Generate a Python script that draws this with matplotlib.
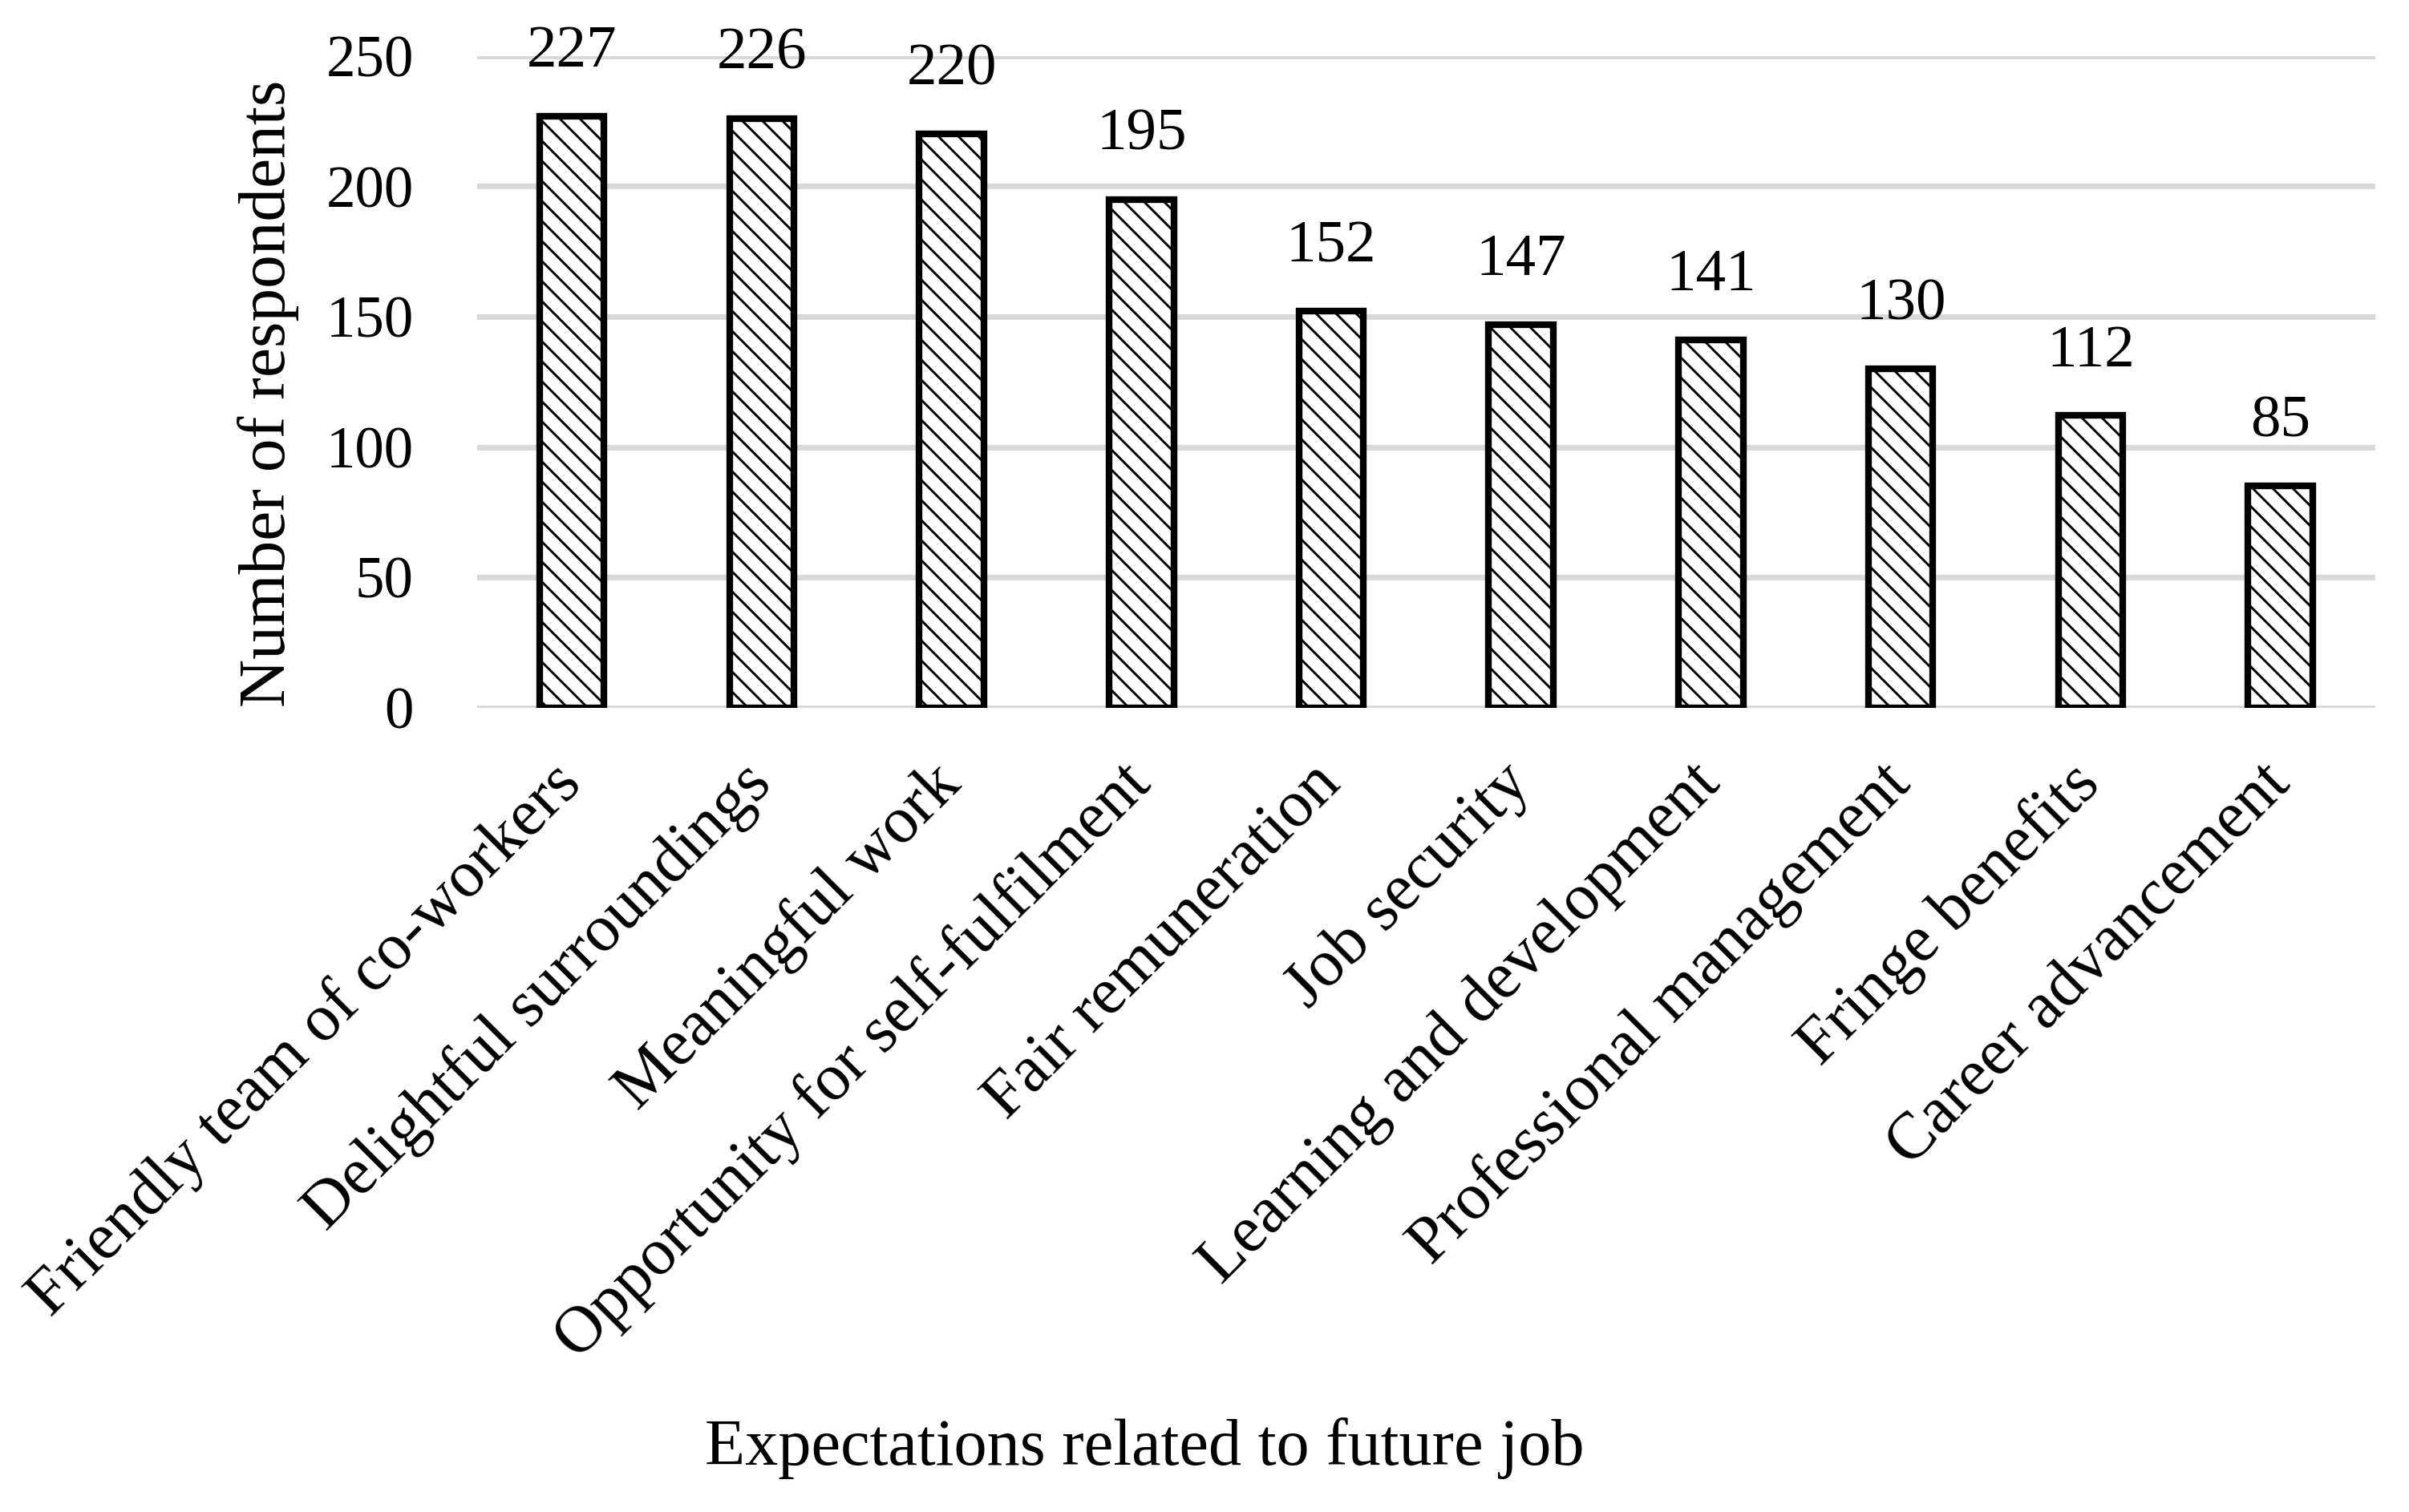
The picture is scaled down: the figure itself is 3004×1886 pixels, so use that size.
import matplotlib.pyplot as plt

categories = [
    'Friendly team of co-workers',
    'Delightful surroundings',
    'Meaningful work',
    'Opportunity for self-fulfilment',
    'Fair remuneration',
    'Job security',
    'Learning and development',
    'Professional management',
    'Fringe benefits',
    'Career advancement',
]
respondents = [227, 226, 220, 195, 152, 147, 141, 130, 112, 85]
y_ticks = [0, 50, 100, 150, 200, 250]

plt.rcParams['font.family'] = ['Liberation Serif', 'DejaVu Serif']
plt.rcParams['hatch.linewidth'] = 1.4
plt.rcParams['hatch.color'] = 'black'

fig = plt.figure(figsize=(3004 / 150, 1886 / 150), dpi=150)
ax = fig.add_axes([0.198, 0.532, 0.788, 0.431])

x = range(len(categories))
bars = ax.bar(x, respondents, width=0.34, color='white', edgecolor='black',
              linewidth=4.0, hatch='\\\\', zorder=3)

for rect, v in zip(bars, respondents):
    ax.annotate(str(v), (rect.get_x() + rect.get_width() / 2, v),
                xytext=(0, 22), textcoords='offset points',
                ha='center', va='bottom', fontsize=36)

ax.set_xlim(-0.5, len(categories) - 0.5)
ax.set_ylim(0, 250)
ax.set_yticks(y_ticks)
ax.yaxis.grid(True, color='#d9d9d9', linewidth=3.4, zorder=0)
ax.set_axisbelow(True)
for s in ax.spines.values():
    s.set_visible(False)

ax.set_xticks(list(x))
ax.set_xticklabels(categories, rotation=45, ha='right', va='center',
                   rotation_mode='anchor', fontsize=39.5)
ax.tick_params(axis='both', length=0)
ax.tick_params(axis='y', labelsize=35, pad=38)
ax.tick_params(axis='x', pad=40)

fig.text(0.1115, 0.74, 'Number of respondents', rotation=90,
         ha='center', va='center', fontsize=40)
fig.text(0.475, 0.042, 'Expectations related to future job',
         ha='center', va='center', fontsize=39.5)

fig.savefig('out.png', dpi=150)
